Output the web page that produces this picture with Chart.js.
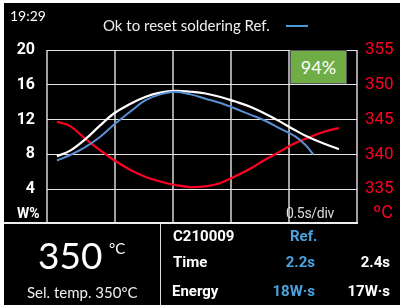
<!DOCTYPE html>
<html><head><meta charset="utf-8">
<script src="https://cdn.jsdelivr.net/npm/chart.js@4"></script>
<style>
html,body{margin:0;padding:0;background:#fff;width:400px;height:305px;overflow:hidden;}
#screen{position:absolute;left:4px;top:3px;width:396px;height:302px;background:#000;}
#cv{position:absolute;left:0;top:0;}
.t{position:absolute;white-space:nowrap;line-height:1;}
.lato{font-family:Lato,"Open Sans",sans-serif;}
.rb{font-family:Roboto,"Liberation Sans",sans-serif;font-weight:700;}
</style></head>
<body>
<div id="screen"></div>
<canvas id="cv" width="400" height="305"></canvas>
<div class="t lato" style="left:10px;top:9px;font-size:14px;color:#fff;">19:29</div>
<div class="t lato" style="left:103px;top:18px;font-size:15px;color:#eee;">Ok to reset soldering Ref.</div>
<div style="position:absolute;left:286px;top:25px;width:22px;height:2px;background:#4a9ad8;"></div>
<div style="position:absolute;left:290px;top:50px;width:55px;height:32px;background:#70ad47;border:1px solid #555;box-sizing:content-box;"></div>
<div class="t lato" style="left:290px;top:58px;width:57px;text-align:center;font-size:18px;color:#fff;">94%</div>
<div class="t rb" style="left:17px;top:206px;font-size:14px;color:#fff;">W%</div>
<div class="t" style="left:254px;top:206px;width:80px;text-align:right;font-size:14px;color:#ddd;font-family:Roboto,sans-serif;letter-spacing:-0.3px;">0.5s/div</div>
<div class="t" style="left:373px;top:203px;font-size:18px;color:#ff0022;font-family:Roboto,sans-serif;">ºC</div>
<div style="position:absolute;left:4px;top:222px;width:354px;height:2px;background:#eee;"></div>
<div style="position:absolute;left:160px;top:223px;width:1px;height:82px;background:#ddd;"></div>
<div class="t lato" style="left:38px;top:236px;font-size:37px;color:#fff;">350</div>
<div class="t lato" style="left:109px;top:241px;font-size:15px;color:#fff;">°C</div>
<div class="t lato" style="left:27px;top:285px;font-size:15px;color:#eee;">Sel. temp. 350ºC</div>
<div class="t rb" style="left:173px;top:229px;font-size:15px;color:#fff;">C210009</div>
<div class="t rb" style="left:290px;top:229px;font-size:15px;color:#4aa3df;">Ref.</div>
<div class="t rb" style="left:173px;top:255px;font-size:15px;color:#fff;">Time</div>
<div class="t rb" style="left:255px;top:255px;width:60px;text-align:right;font-size:15px;color:#4aa3df;">2.2s</div>
<div class="t rb" style="left:330px;top:255px;width:60px;text-align:right;font-size:15px;color:#fff;">2.4s</div>
<div class="t rb" style="left:172px;top:284px;font-size:15px;color:#fff;">Energy</div>
<div class="t rb" style="left:255px;top:284px;width:60px;text-align:right;font-size:15px;color:#4aa3df;">18W·s</div>
<div class="t rb" style="left:330px;top:284px;width:60px;text-align:right;font-size:15px;color:#fff;">17W·s</div>
<script>
const measTime  = [0,0.11,0.24,0.37,0.49,0.63,0.76,0.89,1.02,1.15,1.28,1.41,1.53,1.66,1.79,1.92,2.05,2.18,2.31,2.43];
const measPower = [7.8,8.4,9.7,11.3,12.7,13.8,14.6,15.1,15.3,15.2,15.0,14.6,14.1,13.5,12.7,11.8,10.8,9.9,9.2,8.6];
const measTemp  = [344.7,344.1,342.3,340.6,339.2,337.8,336.8,336.1,335.6,335.3,335.4,335.9,336.8,337.9,339.2,340.4,341.6,342.5,343.3,343.8];
const refTime   = [0,0.11,0.24,0.37,0.49,0.63,0.76,0.89,1.02,1.15,1.28,1.41,1.53,1.66,1.79,1.92,2.05,2.14,2.21];
const refPower  = [7.3,7.9,8.8,10.0,11.4,12.9,14.2,14.9,15.2,14.9,14.4,13.9,13.3,12.6,11.9,11.0,10.1,9.1,8.0];
const powerTicks = [0,4,8,12,16,20];
const tempTicks  = [330,335,340,345,350,355];

const pts = (xs, ys) => xs.map((x, i) => ({x, y: ys[i]}));

new Chart(document.getElementById('cv'), {
  type: 'line',
  data: {
    datasets: [
      {label:'Ref.', data: pts(refTime, refPower), yAxisID:'y', borderColor:'#5b8fd4', borderWidth:2, pointRadius:0, tension:0.4},
      {label:'Power', data: pts(measTime, measPower), yAxisID:'y', borderColor:'#ffffff', borderWidth:2.2, pointRadius:0, tension:0.4},
      {label:'Temp', data: pts(measTime, measTemp), yAxisID:'y1', borderColor:'#ff0022', borderWidth:2.2, pointRadius:0, tension:0.4}
    ]
  },
  options: {
    responsive:false, animation:false, devicePixelRatio:1,
    layout:{padding:{top:50,left:0,right:0,bottom:0}},
    plugins:{legend:{display:false}, tooltip:{enabled:false}},
    scales:{
      x:{type:'linear', min:-0.086, max:2.586,
         ticks:{display:false, stepSize:0.5},
         grid:{color:'#a0a0a0', lineWidth:2, drawTicks:false},
         border:{display:false},
         afterFit:s=>{s.height=81;}},
      y:{position:'left', min:0, max:20,
         afterBuildTicks:s=>{s.ticks=powerTicks.map(v=>({value:v}));},
         ticks:{color:'#fff', padding:12, font:{family:'Roboto', weight:'bold', size:16},
                callback:v=> v===0 ? '' : String(v)},
         grid:{color:c=> c.tick && c.tick.value===0 ? 'rgba(0,0,0,0)' : '#e6e6e6', lineWidth:1, drawTicks:false},
         border:{display:false},
         afterFit:s=>{s.width=47;}},
      y1:{position:'right', min:330, max:355,
         afterBuildTicks:s=>{s.ticks=tempTicks.map(v=>({value:v}));},
         ticks:{color:'#ff0022', padding:8, font:{family:'Roboto', size:17},
                callback:v=> v===330 ? '' : String(v)},
         grid:{display:false, drawTicks:false},
         border:{display:false},
         afterFit:s=>{s.width=43;}}
    }
  }
});
</script>
</body></html>
